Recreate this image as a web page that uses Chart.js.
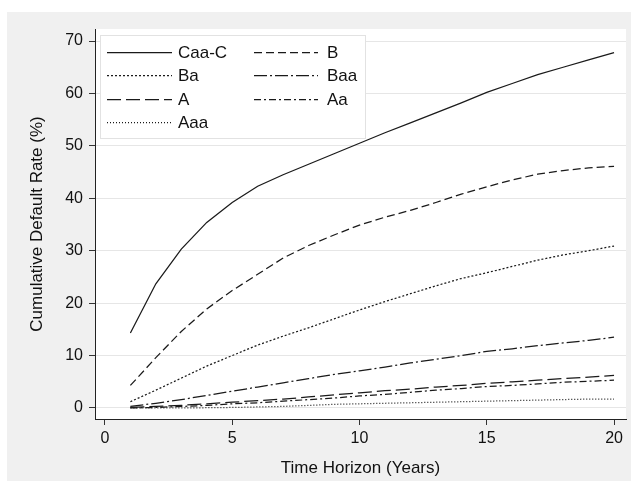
<!DOCTYPE html>
<html>
<head>
<meta charset="utf-8">
<script src="https://cdn.jsdelivr.net/npm/chart.js@4/dist/chart.umd.min.js"></script>
<style>
html,body{margin:0;padding:0;background:#fff;}
#wrap{width:631px;height:481px;position:relative;}
</style>
</head>
<body>
<div id="wrap"><canvas id="c" width="631" height="481"></canvas></div>
<script>
// ---- data ----
const years = [1,2,3,4,5,6,7,8,9,10,11,12,13,14,15,16,17,18,19,20];
const caaC = [14.3,23.7,30.3,35.4,39.2,42.3,44.5,46.5,48.5,50.5,52.5,54.4,56.3,58.2,60.2,61.9,63.6,65.0,66.4,67.8];
const b    = [4.3,9.6,14.6,18.9,22.4,25.5,28.6,31.0,33.0,34.9,36.4,37.7,39.2,40.8,42.2,43.5,44.6,45.3,45.8,46.1];
const ba   = [1.2,3.4,5.7,8.0,10.0,12.0,13.7,15.3,17.0,18.7,20.3,21.8,23.3,24.7,25.8,27.0,28.2,29.2,30.0,30.9];
const baa  = [0.3,0.9,1.6,2.4,3.2,4.0,4.8,5.6,6.4,7.1,7.8,8.6,9.3,10.0,10.8,11.3,11.9,12.4,12.9,13.5];
const aRt  = [0.1,0.3,0.5,0.8,1.1,1.4,1.7,2.1,2.5,2.9,3.3,3.6,4.0,4.3,4.7,5.0,5.3,5.6,5.9,6.2];
const aa   = [0.0,0.1,0.3,0.5,0.8,1.0,1.3,1.6,1.9,2.3,2.6,3.0,3.4,3.7,4.1,4.3,4.6,4.9,5.1,5.3];
const aaa  = [0.0,0.0,0.0,0.05,0.1,0.2,0.3,0.5,0.7,0.8,0.9,1.0,1.1,1.2,1.3,1.4,1.5,1.6,1.7,1.7];
const seriesNames = ['Caa-C','B','Ba','Baa','A','Aa','Aaa'];
const seriesValues = [caaC, b, ba, baa, aRt, aa, aaa];
const xTicks = [0,5,10,15,20];
const yTicks = [0,10,20,30,40,50,60,70];
const xTitle = 'Time Horizon (Years)';
const yTitle = 'Cumulative Default Rate (%)';

// ---- styles ----
const dashes = [[], [8,4], [2,2], [13,3,2,3], [14,5], [7,3,2,3], [1,2]];
const FONT = '"Liberation Sans", Arial, Helvetica, sans-serif';
Chart.defaults.font.family = FONT;

const datasets = seriesNames.map((name, i) => ({
  label: name,
  data: years.map((t, k) => ({x: t, y: seriesValues[i][k]})),
  borderColor: '#1a1a1a',
  borderWidth: 1.25,
  borderDash: dashes[i],
  pointRadius: 0,
  tension: 0,
  fill: false
}));

const bgPlugin = {
  id: 'bg',
  beforeDraw(chart) {
    const {ctx, chartArea: a} = chart;
    ctx.save();
    ctx.fillStyle = '#ffffff';
    ctx.fillRect(0, 0, chart.width, chart.height);
    ctx.fillStyle = '#f0f0f0';
    ctx.fillRect(7, 12, chart.width - 7, chart.height - 12);
    ctx.fillStyle = '#ffffff';
    ctx.fillRect(a.left, a.top, a.right - a.left, a.bottom - a.top);
    ctx.restore();
  }
};

const legendPlugin = {
  id: 'stataLegend',
  afterDraw(chart) {
    const ctx = chart.ctx;
    ctx.save();
    ctx.fillStyle = '#ffffff';
    ctx.fillRect(100.5, 35.5, 265, 103);
    ctx.strokeStyle = '#e2e2e2';
    ctx.lineWidth = 1;
    ctx.strokeRect(100.5, 35.5, 265, 103);
    chart.data.datasets.forEach((ds, i) => {
      const row = Math.floor(i / 2), col = i % 2;
      const y = Math.round(52 + row * 23.3);
      const x0 = col ? 254 : 107, x1 = col ? 318 : 172, tx = col ? 327 : 178;
      ctx.setLineDash(ds.borderDash || []);
      ctx.lineWidth = 1.25;
      ctx.strokeStyle = ds.borderColor;
      ctx.beginPath();
      ctx.moveTo(x0, y + 0.5);
      ctx.lineTo(x1, y + 0.5);
      ctx.stroke();
      ctx.setLineDash([]);
      ctx.fillStyle = '#111';
      ctx.font = '17px ' + FONT;
      ctx.textBaseline = 'middle';
      ctx.textAlign = 'left';
      ctx.fillText(ds.label, tx, y + 1);
    });
    ctx.restore();
  }
};

new Chart(document.getElementById('c'), {
  type: 'line',
  data: {datasets},
  plugins: [bgPlugin, legendPlugin],
  options: {
    responsive: false,
    animation: false,
    devicePixelRatio: 1,
    layout: {padding: {left: 7, right: 5, top: 29, bottom: 0}},
    plugins: {legend: {display: false}, tooltip: {enabled: false}},
    scales: {
      x: {
        type: 'linear', min: -0.39, max: 20.47,
        afterBuildTicks: s => { s.ticks = xTicks.map(v => ({value: v})); },
        afterFit: s => { s.height = 62; },
        grid: {drawOnChartArea: false, drawTicks: true, tickLength: 6, tickColor: '#333', tickWidth: 1},
        border: {display: true, color: '#222', width: 1},
        ticks: {color: '#111', font: {size: 16}, padding: 4, maxRotation: 0, autoSkip: false},
        title: {display: true, text: xTitle, color: '#111', font: {size: 17}, padding: {top: 0, bottom: 2}}
      },
      y: {
        type: 'linear', min: -2.1, max: 72.3,
        afterBuildTicks: s => { s.ticks = yTicks.map(v => ({value: v})); },
        afterFit: s => { s.width = 88; },
        grid: {color: '#e6e6e6', lineWidth: 1, drawTicks: true, tickLength: 6, tickColor: '#333', tickWidth: 1},
        border: {display: true, color: '#222', width: 1},
        ticks: {color: '#111', font: {size: 16}, padding: 6, autoSkip: false},
        title: {display: true, text: yTitle, color: '#111', font: {size: 17}, padding: {top: 20, bottom: 0}}
      }
    }
  }
});
</script>
</body>
</html>
